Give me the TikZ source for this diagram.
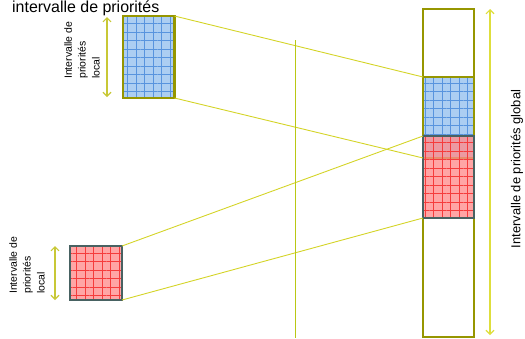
\documentclass[tikz,border=0pt]{standalone}
\usepackage{fontspec}
\setmainfont{Liberation Sans}
\usetikzlibrary{arrows.meta,positioning,patterns.meta}
\definecolor{prioOlive}{RGB}{150,150,0}
\definecolor{prioSlate}{RGB}{72,98,98}
\definecolor{prioLink}{RGB}{212,212,40}
\definecolor{prioSpan}{RGB}{222,222,60}
\definecolor{prioRule}{RGB}{185,200,20}
\definecolor{prioBlue}{RGB}{172,206,242}
\definecolor{prioBlueGrid}{RGB}{88,148,222}
\definecolor{prioRed}{RGB}{255,140,140}
\definecolor{prioRedGrid}{RGB}{245,60,60}

\begin{document}
\begin{tikzpicture}[x=1bp,y=-1bp,
    box/.style={line width=2.5bp,inner sep=0pt,outer sep=0pt},
    bluebox/.style={box,draw=prioOlive,preaction={fill=prioBlue},pattern={Hatch[distance=8.5bp,line width=0.6bp]},pattern color=prioBlueGrid},
    redbox/.style={box,draw=prioSlate,fill opacity=0.78,preaction={fill=prioRed,fill opacity=0.78},pattern={Hatch[distance=8.5bp,line width=0.6bp]},pattern color=prioRedGrid},
    column/.style={box,draw=prioOlive,minimum width=51bp,minimum height=328bp},
    link/.style={draw=prioLink,line width=0.9bp},
    span/.style={{Straight Barb[length=4bp,width=8bp]}-{Straight Barb[length=4bp,width=8bp]},line width=1.1bp},
    tag/.style={rotate=90,inner sep=0pt,align=left,font=\fontsize{10.5}{14}\selectfont}
  ]
    \useasboundingbox (0,0) rectangle (525,338);
    % global column
    \node[column] (col) at (448.5,173) {};
    \node[bluebox,minimum width=51bp,minimum height=81bp] (gblue) at (448.5,117.5) {};
    \node[redbox,minimum width=51bp,minimum height=82bp] (gred) at (448.5,177) {};
    % local intervals
    \node[bluebox,minimum width=51.5bp,minimum height=82bp] (lblue) at (148.75,57) {};
    \node[redbox,minimum width=52bp,minimum height=54bp] (lred) at (96,273) {};
    % mapping lines
    \draw[link] (lblue.north east) -- (gblue.north west);
    \draw[link] (lblue.south east) -- (gblue.south west);
    \draw[link] (lred.north east) -- (gred.north west);
    \draw[link] (lred.south east) -- (gred.south west);
    % divider
    \coordinate (ruletop) at (295,40);
    \coordinate (rulebot) at (295,338);
    \draw[prioRule,line width=0.9bp] (ruletop) -- (rulebot);
    % spans
    \draw[span,draw=prioSpan!90!black] ([xshift=-16bp,yshift=-1bp]lblue.north west) -- ([xshift=-16bp,yshift=1bp]lblue.south west);
    \draw[span,draw=prioSpan!90!black] ([xshift=-15bp]lred.north west) -- ([xshift=-15bp]lred.south west);
    \draw[span,draw=prioSpan] ([xshift=16bp]col.north east) -- ([xshift=16bp,yshift=2bp]col.south east);
    % labels
    \node[anchor=base west,inner sep=0pt,font=\fontsize{16}{18}\selectfont] (title) at (12,12.5) {intervalle de priorités};
    \node[tag,anchor=north west] (lbluetag) at (64,79) {Intervalle de\\priorités\\local};
    \node[tag,anchor=north west] (lredtag) at (9,294) {Intervalle de\\priorités\\local};
    \node[tag,anchor=center,font=\fontsize{13}{15}\selectfont] (coltag) at (517,169) {Intervalle de priorités global};
  \end{tikzpicture}
\end{document}
